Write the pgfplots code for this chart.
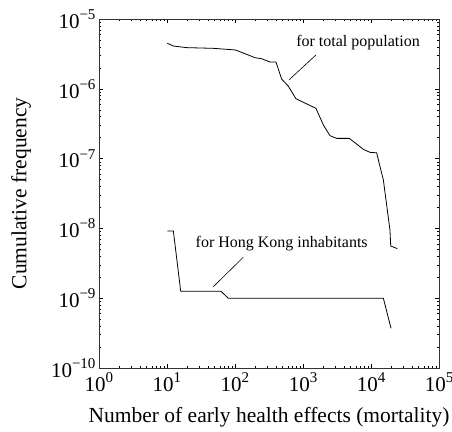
\documentclass[border=0pt]{standalone}
\usepackage{fontspec}
\setmainfont{Liberation Serif}
\usepackage{pgfplots}
\usetikzlibrary{calc}
\pgfplotsset{compat=1.18}
\newcommand\sx[1]{10\raisebox{0.42em}{\fontsize{15}{15}\selectfont #1}}
\begin{document}
\begin{tikzpicture}
\begin{axis}[
 name=ax,
 xmode=log, ymode=log,
 scale only axis, width=340pt, height=349pt,
 xmin=1, xmax=1e5, ymin=1e-10, ymax=1e-5,
 xtick={1,10,100,1000,10000,100000},
 xticklabels={\sx{0},\sx{1},\sx{2},\sx{3},\sx{4},\sx{5}},
 ytick={1e-10,1e-9,1e-8,1e-7,1e-6,1e-5},
 yticklabels={\sx{−10},\sx{−9},\sx{−8},\sx{−7},\sx{−6},\sx{−5}},
 tick align=inside, major tick length=4pt, minor tick length=2.5pt,
 ticklabel style={font=\fontsize{21}{22}\selectfont},
 xticklabel style={yshift=-1pt},
 every axis x label/.style={at={(axis description cs:0.5,-0.1404)}, anchor=center, font=\fontsize{21.5}{24}\selectfont},
 every axis y label/.style={at={(axis description cs:-0.2294,0.5)}, anchor=center, rotate=90, font=\fontsize{21.5}{24}\selectfont},
 xlabel={Number of early health effects (mortality)},
 ylabel={Cumulative frequency},
 axis line style={line width=0.6pt, black!80},
 every tick/.style={black, line width=0.5pt},
 clip=false,
]
\addplot[black, line width=0.8pt] coordinates {
(10.1,4.49e-6) (12.4,4.1e-6) (19.5,3.89e-6) (48,3.8e-6) (102,3.6e-6)
(197,2.79e-6) (246,2.7e-6) (327,2.42e-6) (400,2.42e-6) (485,1.38e-6)
(604,1.1e-6) (788,7.2e-7) (1550,5.25e-7) (1995,3.03e-7) (2495,2.13e-7)
(3126,1.95e-7) (4800,1.95e-7) (7710,1.36e-7) (9660,1.23e-7) (12100,1.21e-7)
(15200,4.93e-8) (19000,9.5e-9) (19500,5.6e-9) (24400,5.13e-9)
};
\addplot[black, line width=0.8pt] coordinates {
(10.1,9.2e-9) (12.4,9.2e-9) (15.9,1.26e-9) (62,1.26e-9) (79.5,1e-9)
(15200,1e-9) (19700,3.7e-10)
};
\addplot[black, line width=0.6pt] coordinates {(1550,3.05e-6) (622,1.34e-6)};
\addplot[black, line width=0.6pt] coordinates {(132,3.85e-9) (48,1.46e-9)};
\node[font=\fontsize{16}{18}\selectfont] at (axis cs:6450,4.53e-6) {for total population};
\node[font=\fontsize{16}{18}\selectfont] at (axis cs:486,6.1e-9) {for Hong Kong inhabitants};
\end{axis}
\pgfresetboundingbox
\path ($(ax.south west)+(-99pt,-63pt)$) rectangle ($(ax.north east)+(13pt,19pt)$);
\end{tikzpicture}
\end{document}
